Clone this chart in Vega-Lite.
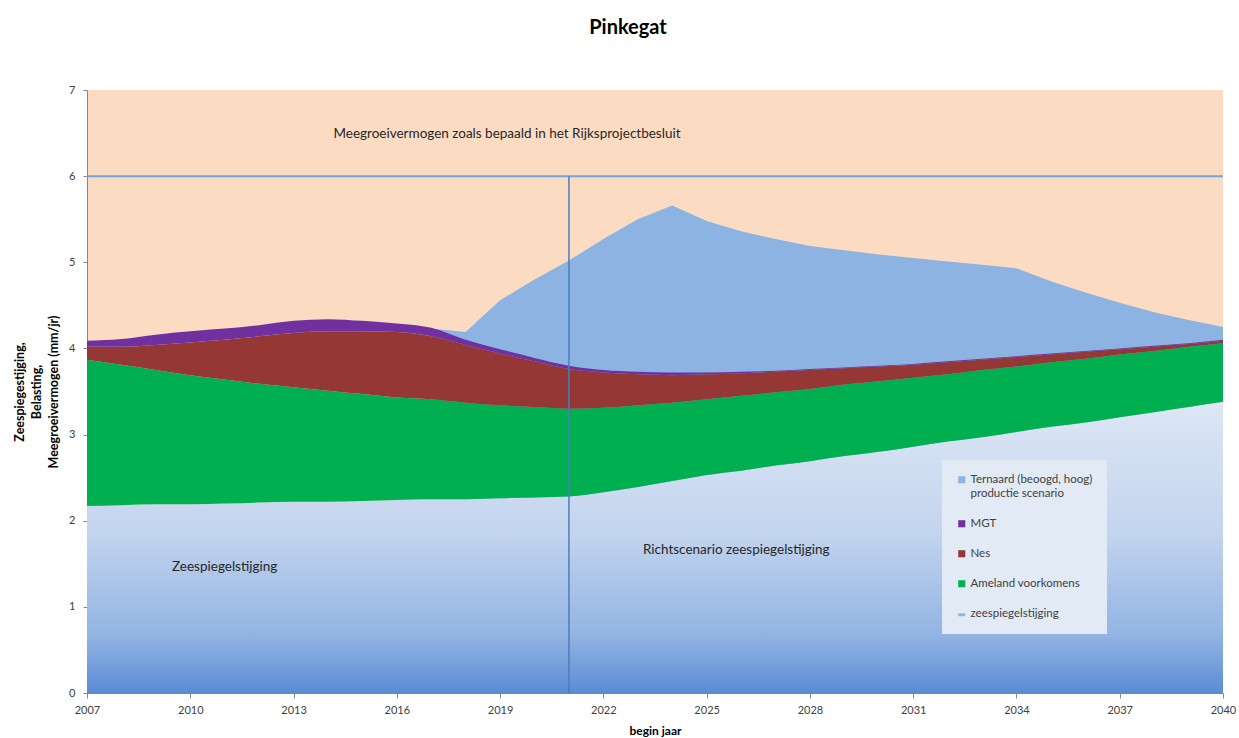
{
  "$schema": "https://vega.github.io/schema/vega-lite/v6.json",
  "width": 1136,
  "height": 603,
  "autosize": {"type": "none"},
  "padding": {"left": 87, "top": 90, "right": 16, "bottom": 45},
  "background": "white",
  "title": {"text": "Pinkegat", "fontSize": 20, "fontWeight": "bold", "font": "Lato", "color": "#000000", "anchor": "middle", "dx": -27, "offset": 46},
  "config": {"view": {"fill": "#fbdcc3", "stroke": null}, "font": "Lato"},
  "datasets": {
    "reeks": [
      {"jaar": 2007, "zee": 2.17, "ameland": 3.87, "nes": 4.02, "mgt": 4.09, "ternaard": 4.09},
      {"jaar": 2008, "zee": 2.18, "ameland": 3.81, "nes": 4.02, "mgt": 4.11, "ternaard": 4.11},
      {"jaar": 2009, "zee": 2.19, "ameland": 3.75, "nes": 4.04, "mgt": 4.16, "ternaard": 4.16},
      {"jaar": 2010, "zee": 2.19, "ameland": 3.69, "nes": 4.07, "mgt": 4.20, "ternaard": 4.20},
      {"jaar": 2011, "zee": 2.20, "ameland": 3.64, "nes": 4.10, "mgt": 4.23, "ternaard": 4.23},
      {"jaar": 2012, "zee": 2.21, "ameland": 3.59, "nes": 4.14, "mgt": 4.27, "ternaard": 4.27},
      {"jaar": 2013, "zee": 2.22, "ameland": 3.55, "nes": 4.18, "mgt": 4.32, "ternaard": 4.32},
      {"jaar": 2014, "zee": 2.22, "ameland": 3.51, "nes": 4.20, "mgt": 4.34, "ternaard": 4.34},
      {"jaar": 2015, "zee": 2.23, "ameland": 3.47, "nes": 4.20, "mgt": 4.32, "ternaard": 4.32},
      {"jaar": 2016, "zee": 2.24, "ameland": 3.43, "nes": 4.19, "mgt": 4.29, "ternaard": 4.29},
      {"jaar": 2017, "zee": 2.25, "ameland": 3.41, "nes": 4.14, "mgt": 4.24, "ternaard": 4.23},
      {"jaar": 2018, "zee": 2.25, "ameland": 3.37, "nes": 4.04, "mgt": 4.10, "ternaard": 4.19},
      {"jaar": 2019, "zee": 2.26, "ameland": 3.34, "nes": 3.94, "mgt": 3.99, "ternaard": 4.56},
      {"jaar": 2020, "zee": 2.27, "ameland": 3.32, "nes": 3.85, "mgt": 3.89, "ternaard": 4.80},
      {"jaar": 2021, "zee": 2.28, "ameland": 3.30, "nes": 3.76, "mgt": 3.80, "ternaard": 5.02},
      {"jaar": 2022, "zee": 2.33, "ameland": 3.31, "nes": 3.72, "mgt": 3.75, "ternaard": 5.27},
      {"jaar": 2023, "zee": 2.39, "ameland": 3.34, "nes": 3.70, "mgt": 3.73, "ternaard": 5.50},
      {"jaar": 2024, "zee": 2.46, "ameland": 3.37, "nes": 3.69, "mgt": 3.72, "ternaard": 5.66},
      {"jaar": 2025, "zee": 2.53, "ameland": 3.41, "nes": 3.70, "mgt": 3.72, "ternaard": 5.48},
      {"jaar": 2026, "zee": 2.58, "ameland": 3.45, "nes": 3.71, "mgt": 3.73, "ternaard": 5.36},
      {"jaar": 2027, "zee": 2.64, "ameland": 3.49, "nes": 3.73, "mgt": 3.74, "ternaard": 5.27},
      {"jaar": 2028, "zee": 2.69, "ameland": 3.53, "nes": 3.75, "mgt": 3.76, "ternaard": 5.19},
      {"jaar": 2029, "zee": 2.75, "ameland": 3.58, "nes": 3.77, "mgt": 3.78, "ternaard": 5.14},
      {"jaar": 2030, "zee": 2.80, "ameland": 3.62, "nes": 3.79, "mgt": 3.80, "ternaard": 5.09},
      {"jaar": 2031, "zee": 2.86, "ameland": 3.66, "nes": 3.81, "mgt": 3.82, "ternaard": 5.05},
      {"jaar": 2032, "zee": 2.92, "ameland": 3.70, "nes": 3.84, "mgt": 3.85, "ternaard": 5.01},
      {"jaar": 2033, "zee": 2.97, "ameland": 3.75, "nes": 3.87, "mgt": 3.88, "ternaard": 4.97},
      {"jaar": 2034, "zee": 3.03, "ameland": 3.79, "nes": 3.90, "mgt": 3.91, "ternaard": 4.93},
      {"jaar": 2035, "zee": 3.09, "ameland": 3.84, "nes": 3.93, "mgt": 3.94, "ternaard": 4.78},
      {"jaar": 2036, "zee": 3.14, "ameland": 3.88, "nes": 3.96, "mgt": 3.97, "ternaard": 4.65},
      {"jaar": 2037, "zee": 3.20, "ameland": 3.93, "nes": 3.99, "mgt": 4.00, "ternaard": 4.53},
      {"jaar": 2038, "zee": 3.26, "ameland": 3.97, "nes": 4.02, "mgt": 4.03, "ternaard": 4.42},
      {"jaar": 2039, "zee": 3.32, "ameland": 4.02, "nes": 4.05, "mgt": 4.06, "ternaard": 4.33},
      {"jaar": 2040, "zee": 3.38, "ameland": 4.06, "nes": 4.09, "mgt": 4.10, "ternaard": 4.25}
    ],
    "teksten": [
      {"jaar": 2019.2, "waarde": 6.49, "tekst": "Meegroeivermogen zoals bepaald in het Rijksprojectbesluit"},
      {"jaar": 2011.0, "waarde": 1.46, "tekst": "Zeespiegelstijging"},
      {"jaar": 2025.86, "waarde": 1.66, "tekst": "Richtscenario zeespiegelstijging"}
    ],
    "lijnen": [{"jaar": 2021, "onder": 0, "boven": 6, "niveau": 6}]
  },
  "layer": [
    {
      "data": {"name": "reeks"},
      "transform": [{"filter": "datum.jaar >= 2017"}],
      "mark": {"type": "area", "interpolate": "linear", "opacity": 1},
      "encoding": {
        "x": {"field": "jaar", "type": "quantitative", "scale": {"domain": [2007, 2040], "nice": false, "zero": false},
          "axis": {"title": "begin jaar", "values": [2007, 2010, 2013, 2016, 2019, 2022, 2025, 2028, 2031, 2034, 2037, 2040], "format": "d", "grid": false,
            "labelFontSize": 11, "labelColor": "#404040", "domainColor": "#868686", "tickColor": "#868686", "tickSize": 5, "labelPadding": 6,
            "titleFontSize": 12, "titleFontWeight": "bold", "titleColor": "#000000", "titlePadding": 10, "labelFlush": false}},
        "y": {"field": "ternaard", "type": "quantitative", "stack": null, "scale": {"domain": [0, 7], "nice": false},
          "axis": {"title": ["Zeespiegestijging,", "Belasting,", "Meegroeivermogen  (mm/jr)"], "values": [0, 1, 2, 3, 4, 5, 6, 7], "format": "d", "grid": false,
            "labelFontSize": 11, "labelColor": "#404040", "domainColor": "#868686", "tickColor": "#868686", "tickSize": 4, "labelPadding": 8,
            "titleFontSize": 12.5, "titleFontWeight": "bold", "titleColor": "#000000", "titlePadding": 8, "titleLineHeight": 17}},
        "color": {"datum": "Ternaard (beoogd, hoog)|productie scenario", "type": "nominal",
          "scale": {"domain": ["Ternaard (beoogd, hoog)|productie scenario", "MGT", "Nes", "Ameland voorkomens", "zeespiegelstijging"],
                    "range": ["#8db3e2", "#7030a0", "#953735", "#00b050", "#95b3d7"]},
          "legend": {"orient": "none", "legendX": 855, "legendY": 370, "direction": "vertical", "title": null,
            "fillColor": "#e2eaf5", "padding": 14, "symbolType": "square", "symbolSize": 50, "symbolStrokeWidth": 0, "symbolOpacity": 1,
            "labelFontSize": 11.5, "labelColor": "#404040", "labelLimit": 300, "rowPadding": 17, "labelOffset": 3,
            "labelExpr": "split(datum.label, '|')",
            "encode": {
              "labels": {"update": {"lineHeight": {"value": 14}}},
              "symbols": {"update": {"shape": {"signal": "datum.value === 'zeespiegelstijging' ? 'M-1,-0.1H1V0.7H-1Z' : 'square'"}}}
            }}}
      }
    },
    {
      "data": {"name": "reeks"},
      "mark": {"type": "area", "interpolate": "monotone", "opacity": 1,
        "fill": {"gradient": "linear", "x1": 0, "y1": 0, "x2": 0, "y2": 1,
          "stops": [{"offset": 0, "color": "#dde7f5"}, {"offset": 0.45, "color": "#c3d4ee"}, {"offset": 0.8, "color": "#93b4e3"}, {"offset": 1, "color": "#5a8cd6"}]}},
      "encoding": {
        "x": {"field": "jaar", "type": "quantitative"},
        "y": {"field": "zee", "type": "quantitative", "stack": null}
      }
    },
    {
      "data": {"name": "reeks"},
      "mark": {"type": "area", "interpolate": "monotone", "opacity": 1},
      "encoding": {
        "x": {"field": "jaar", "type": "quantitative"},
        "y": {"field": "ameland", "type": "quantitative", "stack": null},
        "y2": {"field": "zee"},
        "color": {"datum": "Ameland voorkomens", "type": "nominal"}
      }
    },
    {
      "data": {"name": "reeks"},
      "mark": {"type": "area", "interpolate": "monotone", "opacity": 1},
      "encoding": {
        "x": {"field": "jaar", "type": "quantitative"},
        "y": {"field": "nes", "type": "quantitative", "stack": null},
        "y2": {"field": "ameland"},
        "color": {"datum": "Nes", "type": "nominal"}
      }
    },
    {
      "data": {"name": "reeks"},
      "mark": {"type": "area", "interpolate": "monotone", "opacity": 1},
      "encoding": {
        "x": {"field": "jaar", "type": "quantitative"},
        "y": {"field": "mgt", "type": "quantitative", "stack": null},
        "y2": {"field": "nes"},
        "color": {"datum": "MGT", "type": "nominal"}
      }
    },
    {
      "data": {"name": "lijnen"},
      "mark": {"type": "rule", "color": "#6fa6e0", "strokeWidth": 2},
      "encoding": {"y": {"field": "niveau", "type": "quantitative"}}
    },
    {
      "data": {"name": "lijnen"},
      "mark": {"type": "rule", "color": "#4a7ebf", "strokeWidth": 1.5},
      "encoding": {
        "x": {"field": "jaar", "type": "quantitative"},
        "y": {"field": "onder", "type": "quantitative"},
        "y2": {"field": "boven"}
      }
    },
    {
      "data": {"name": "teksten"},
      "mark": {"type": "text", "fontSize": 13.5, "color": "#262626", "align": "center", "baseline": "middle", "font": "Lato"},
      "encoding": {
        "x": {"field": "jaar", "type": "quantitative"},
        "y": {"field": "waarde", "type": "quantitative"},
        "text": {"field": "tekst"}
      }
    }
  ]
}
